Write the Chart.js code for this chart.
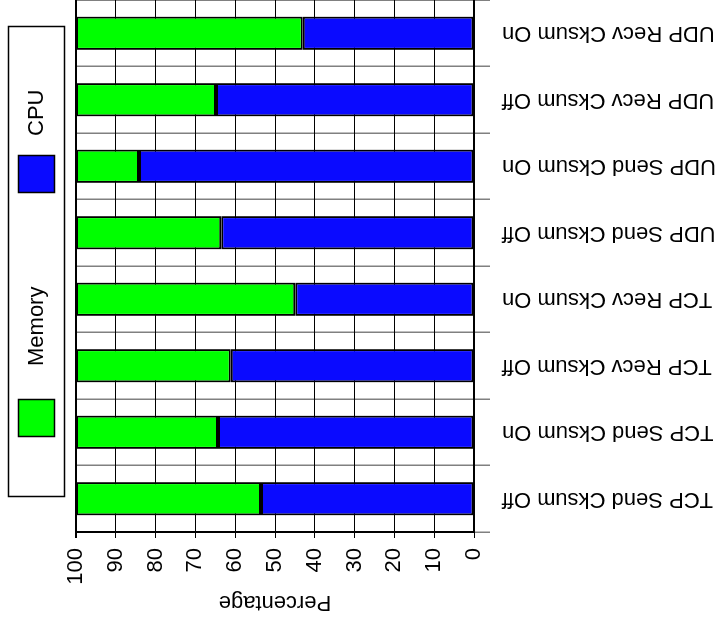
<!DOCTYPE html>
<html>
<head>
<meta charset="utf-8">
<script src="https://cdn.jsdelivr.net/npm/chart.js@4.4.1/dist/chart.umd.min.js"></script>
<style>
  html, body { margin: 0; padding: 0; background: #fff; overflow: hidden; }
  #stage { position: relative; width: 727px; height: 624px; overflow: hidden; background: #fff; }
  /* the column chart is laid out upright, then turned a quarter turn counter-clockwise */
  #turn { position: absolute; left: 0; top: 0; width: 624px; height: 727px;
          transform-origin: 0 0; transform: translate(0, 624px) rotate(-90deg); }
</style>
</head>
<body>
<div id="stage"><div id="turn"><canvas id="c" width="624" height="727"></canvas></div></div>
<script>
// Configurations, left to right
const categories = [
  'TCP Send Cksum Off', 'TCP Send Cksum On', 'TCP Recv Cksum Off', 'TCP Recv Cksum On',
  'UDP Send Cksum Off', 'UDP Send Cksum On', 'UDP Recv Cksum Off', 'UDP Recv Cksum On'
];
// Share of time (%) per configuration
const cpuShare    = [53.5, 64.3, 61.1, 44.9, 63.5, 84.2, 64.8, 43.0];
const memoryShare = [46.5, 35.7, 38.9, 55.1, 36.5, 15.8, 35.2, 57.0];
// Percentage axis ticks
const percentTicks = [0, 10, 20, 30, 40, 50, 60, 70, 80, 90, 100];

const FONT = "'Liberation Sans', Arial, Helvetica, sans-serif";
Chart.defaults.font.family = FONT;
Chart.defaults.font.size = 22;
Chart.defaults.color = '#000';

// Framed legend drawn across the top of the plot
const framedLegend = {
  id: 'framedLegend',
  afterDraw(chart) {
    const ctx = chart.ctx;
    const ds = chart.data.datasets;
    const entries = [ds[1], ds[0]]; // Memory first, then CPU
    const slots = [{ sw: 187, tx: 258 }, { sw: 431, tx: 488 }];
    ctx.save();
    ctx.lineWidth = 1.5;
    ctx.strokeStyle = '#000';
    ctx.strokeRect(127.5, 8.5, 470, 56);
    ctx.font = '22px ' + FONT;
    ctx.textBaseline = 'middle';
    ctx.textAlign = 'left';
    entries.forEach((d, i) => {
      const s = slots[i];
      ctx.fillStyle = d.backgroundColor;
      ctx.fillRect(s.sw, 18, 38, 37);
      ctx.strokeRect(s.sw + 0.5, 18.5, 37, 36);
      ctx.fillStyle = '#000';
      ctx.fillText(d.label, s.tx, 37);
    });
    ctx.restore();
  }
};

new Chart(document.getElementById('c'), {
  type: 'bar',
  data: {
    labels: categories,
    datasets: [
      { label: 'CPU', data: cpuShare, backgroundColor: '#0a0aff', borderColor: '#000',
        borderWidth: 2, borderSkipped: false, barPercentage: 0.5, categoryPercentage: 1 },
      { label: 'Memory', data: memoryShare, backgroundColor: '#00ff00', borderColor: '#000',
        borderWidth: 2, borderSkipped: false, barPercentage: 0.5, categoryPercentage: 1 }
    ]
  },
  options: {
    responsive: false,
    animation: false,
    devicePixelRatio: 1,
    layout: { padding: { top: 76, left: 0, right: 0, bottom: 0 } },
    plugins: { legend: { display: false }, tooltip: { enabled: false } },
    scales: {
      x: {
        stacked: true,
        grid: { offset: true, color: '#808080', lineWidth: 1.5, tickLength: 16 },
        border: { display: true, color: '#000', width: 2 },
        ticks: { minRotation: 90, maxRotation: 90, autoSkip: false, padding: 12, color: '#000' },
        afterFit: s => { s.height = 253; s.paddingLeft = 0; s.paddingRight = 0; }
      },
      y: {
        stacked: true,
        min: 0,
        max: 100,
        afterBuildTicks: s => { s.ticks = percentTicks.map(v => ({ value: v })); },
        grid: { color: '#000', lineWidth: c => (c.tick && c.tick.value === 100 ? 2 : 1), tickLength: 6 },
        border: { color: '#000', width: 2 },
        ticks: { padding: 10, color: '#000' },
        title: { display: true, text: 'Percentage', color: '#000', padding: { top: 9, bottom: 0 } },
        afterFit: s => { s.width = 92; }
      }
    }
  },
  plugins: [framedLegend]
});
</script>
</body>
</html>
